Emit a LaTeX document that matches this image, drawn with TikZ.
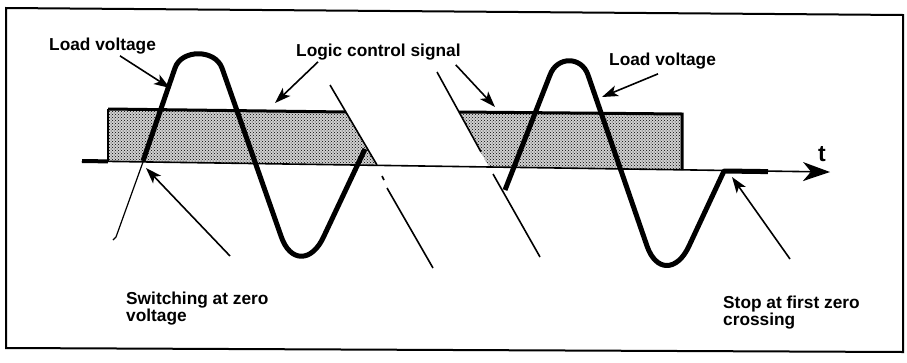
\documentclass[tikz,border=0pt]{standalone}
\usepackage{fontspec}
\setmainfont{Liberation Sans}
\usetikzlibrary{arrows.meta,patterns}

\tikzset{
  textlabel/.style={font=\fontsize{17.3}{15}\selectfont\bfseries, inner sep=0pt, align=left},
  pointer/.style={line width=1.6pt, -{Stealth[length=16pt,width=11pt,inset=4pt]}},
  wave/.style={line width=5pt, line join=round},
  breakline/.style={line width=1.6pt},
  stipple/.style={preaction={fill=black!18}, pattern=crosshatch dots, pattern color=black},
}

\begin{document}
\begin{tikzpicture}[x=1pt, y=-1pt]
    \useasboundingbox (0,0) rectangle (907,362);

    % Draw frame
    \draw[line width=2pt] (6,8) -- (903,15) -- (903,352) -- (6,348) -- cycle;

    % Logic control signal: two pulses
    \fill[stipple] (108,109) -- (346,112) -- (377,164.7) -- (108,161.4) -- cycle;
    \fill[stipple] (459,112) -- (682,114) -- (682,169.8) -- (489,167.1) -- cycle;
    \draw[line width=2pt] (108,161.4) -- (108,109);
    \draw[line width=3pt] (108,109) -- (346,112);
    \draw[line width=3pt] (459,112) -- (682,114) -- (682,170);

    % Time axis
    \coordinate (O) at (82,161);
    \coordinate (E) at (830,172);
    \draw[line width=1.6pt, -{Stealth[length=27pt,width=19pt,inset=8pt]}] (O) -- (E);
    \draw[line width=4pt] (O) -- (108,161.4);
    \node[textlabel, font=\fontsize{23}{23}\selectfont\bfseries, anchor=base west] (tlabel) at (818,161) {t};

    % Load voltage, first switching
    \draw[line width=1.2pt] (113,240) -- (116,237) -- (143,162);
    \draw[wave] (143,161) -- (175,68) .. controls (181.5,49) and (215,49) .. (222,68)
        -- (281,236) .. controls (290,263) and (312,263) .. (324,236) -- (365,149);

    % Load voltage, second switching
    \draw[wave] (505,190) -- (550,75) .. controls (557,56) and (581.5,56) .. (588,75)
        -- (647,246) .. controls (656,272) and (677,272) .. (689,246) -- (724,171) -- (768,171.6);

    % Break in time
    \draw[breakline] (330,85) -- (377,165);
    \draw[breakline] (382,176) -- (384,180);
    \draw[breakline] (387,188) -- (433,268);
    \draw[breakline] (437,72) -- (481,152);
    \draw[breakline] (493,174) -- (540,257);

    % Labels
    \node[textlabel, anchor=base west] (loadL) at (49,50) {Load voltage};
    \node[textlabel, anchor=base west] (logic) at (296,56) {Logic control signal};
    \node[textlabel, anchor=base west] (loadR) at (609,65) {Load voltage};
    \node[textlabel, anchor=north west] (switch) at (126,292) {Switching at zero\\voltage};
    \node[textlabel, anchor=north west] (stop) at (723,296) {Stop at first zero\\crossing};

    % Arrow tips
    \coordinate (tipLoadL) at (170,88);
    \coordinate (tipLogicA) at (275,103);
    \coordinate (tipLogicB) at (495,107);
    \coordinate (tipLoadR) at (602,97);
    \coordinate (tipSwitch) at (146,168);
    \coordinate (tipStop) at (732,177);

    % Pointers
    \draw[pointer] ([xshift=71pt,yshift=-2pt]loadL.south west) -- (tipLoadL);
    \draw[pointer] ([xshift=22pt,yshift=-2pt]logic.south west) -- (tipLogicA);
    \draw[pointer] ([xshift=-5pt,yshift=-5pt]logic.south east) -- (tipLogicB);
    \draw[pointer] ([xshift=49pt,yshift=-5pt]loadR.south west) -- (tipLoadR);
    \draw[pointer] ([xshift=104pt,yshift=36pt]switch.north west) -- (tipSwitch);
    \draw[pointer] ([xshift=67pt,yshift=37pt]stop.north west) -- (tipStop);
\end{tikzpicture}
\end{document}
